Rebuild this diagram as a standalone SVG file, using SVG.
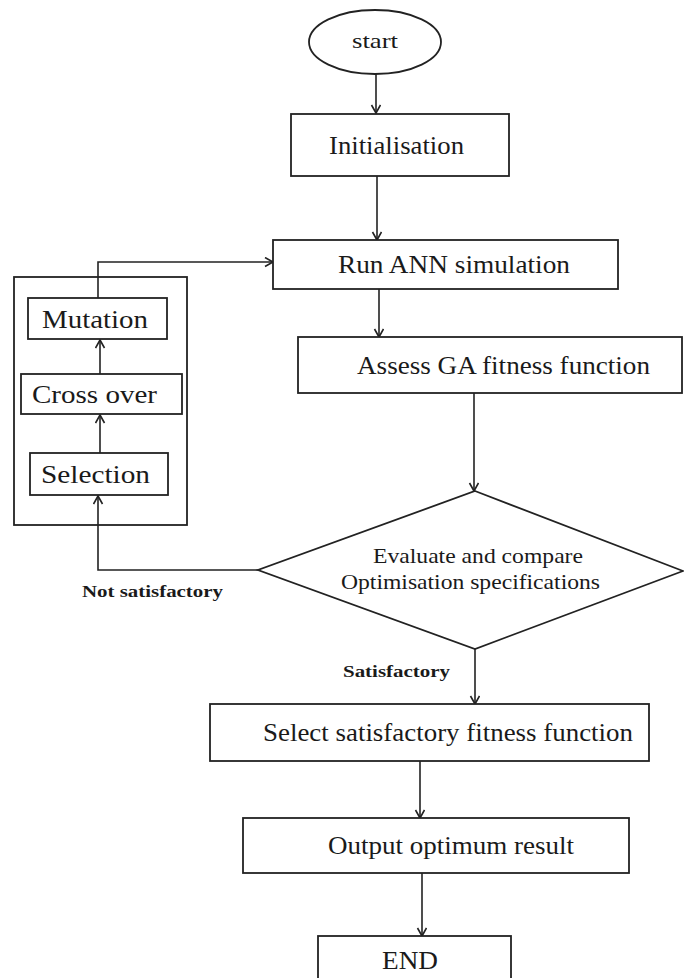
<svg xmlns="http://www.w3.org/2000/svg" width="684" height="978" viewBox="0 0 684 978">
<defs>
<style>
.s{fill:#fff;stroke:#222;stroke-width:1.8}
.f{fill:none;stroke:#222;stroke-width:1.8}
.c{fill:none;stroke:#222;stroke-width:1.6}
.t{font-family:"Liberation Serif","DejaVu Serif",serif;font-size:25px;fill:#1a1a1a}
.st{font-family:"Liberation Serif","DejaVu Serif",serif;font-size:22px;fill:#1a1a1a}
.d{font-family:"Liberation Serif","DejaVu Serif",serif;font-size:22px;fill:#1a1a1a}
.b{font-family:"Liberation Serif","DejaVu Serif",serif;font-size:17px;font-weight:bold;fill:#1a1a1a}
</style>
<marker id="ah" markerUnits="userSpaceOnUse" markerWidth="12" markerHeight="12" refX="9" refY="5" orient="auto">
<path d="M1,0.5 L9,5 L1,9.5" fill="none" stroke="#222" stroke-width="1.6"/>
</marker>
</defs>
<rect width="684" height="978" fill="#fff"/>
<g id="loop-frame">
<rect class="f" x="14" y="277" width="173" height="248"/>
</g>
<g id="connectors">
<line class="c" x1="376" y1="74" x2="376" y2="113" marker-end="url(#ah)"/>
<line class="c" x1="377" y1="176" x2="377" y2="240" marker-end="url(#ah)"/>
<line class="c" x1="379" y1="289" x2="379" y2="337" marker-end="url(#ah)"/>
<line class="c" x1="474" y1="393" x2="474" y2="491" marker-end="url(#ah)"/>
<line class="c" x1="475" y1="649" x2="475" y2="704" marker-end="url(#ah)"/>
<line class="c" x1="420" y1="761" x2="420" y2="818" marker-end="url(#ah)"/>
<line class="c" x1="422" y1="873" x2="422" y2="936" marker-end="url(#ah)"/>
<polyline class="c" points="258,570 98,570 98,496" marker-end="url(#ah)"/>
<line class="c" x1="100" y1="453" x2="100" y2="415" marker-end="url(#ah)"/>
<line class="c" x1="100" y1="374" x2="100" y2="340" marker-end="url(#ah)"/>
<polyline class="c" points="98,298 98,262 273,262" marker-end="url(#ah)"/>
</g>
<g id="start">
<ellipse class="s" cx="375" cy="42" rx="66" ry="32"/>
<text class="st" x="352" y="48" textLength="46" lengthAdjust="spacingAndGlyphs">start</text>
</g>
<g id="init">
<rect class="s" x="291" y="114" width="218" height="62"/>
<text class="t" x="329" y="154" textLength="135" lengthAdjust="spacingAndGlyphs">Initialisation</text>
</g>
<g id="run">
<rect class="s" x="273" y="240" width="345" height="49"/>
<text class="t" x="338" y="273" textLength="232" lengthAdjust="spacingAndGlyphs">Run ANN simulation</text>
</g>
<g id="assess">
<rect class="s" x="298" y="337" width="384" height="56"/>
<text class="t" x="357" y="374" textLength="293" lengthAdjust="spacingAndGlyphs">Assess GA fitness function</text>
</g>
<g id="mutation">
<rect class="s" x="28" y="298" width="139" height="41"/>
<text class="t" x="42" y="328" textLength="106" lengthAdjust="spacingAndGlyphs">Mutation</text>
</g>
<g id="crossover">
<rect class="s" x="21" y="374" width="161" height="40"/>
<text class="t" x="32" y="403" textLength="125" lengthAdjust="spacingAndGlyphs">Cross over</text>
</g>
<g id="selection">
<rect class="s" x="30" y="453" width="138" height="42"/>
<text class="t" x="41" y="483" textLength="109" lengthAdjust="spacingAndGlyphs">Selection</text>
</g>
<g id="evaluate">
<polygon class="s" points="475,491 683,571 475,649 258,570"/>
<text class="d" x="373" y="563" textLength="210" lengthAdjust="spacingAndGlyphs">Evaluate and compare</text>
<text class="d" x="341" y="589" textLength="259" lengthAdjust="spacingAndGlyphs">Optimisation specifications</text>
</g>
<g id="labels">
<text class="b" x="82" y="597" textLength="141" lengthAdjust="spacingAndGlyphs">Not satisfactory</text>
<text class="b" x="343" y="677" textLength="107" lengthAdjust="spacingAndGlyphs">Satisfactory</text>
</g>
<g id="select">
<rect class="s" x="210" y="704" width="439" height="57"/>
<text class="t" x="263" y="741" textLength="370" lengthAdjust="spacingAndGlyphs">Select satisfactory fitness function</text>
</g>
<g id="output">
<rect class="s" x="243" y="818" width="386" height="55"/>
<text class="t" x="328" y="854" textLength="246" lengthAdjust="spacingAndGlyphs">Output optimum result</text>
</g>
<g id="end">
<rect class="s" x="318" y="936" width="193" height="60"/>
<text class="t" x="382" y="969" textLength="56" lengthAdjust="spacingAndGlyphs">END</text>
</g>
</svg>
